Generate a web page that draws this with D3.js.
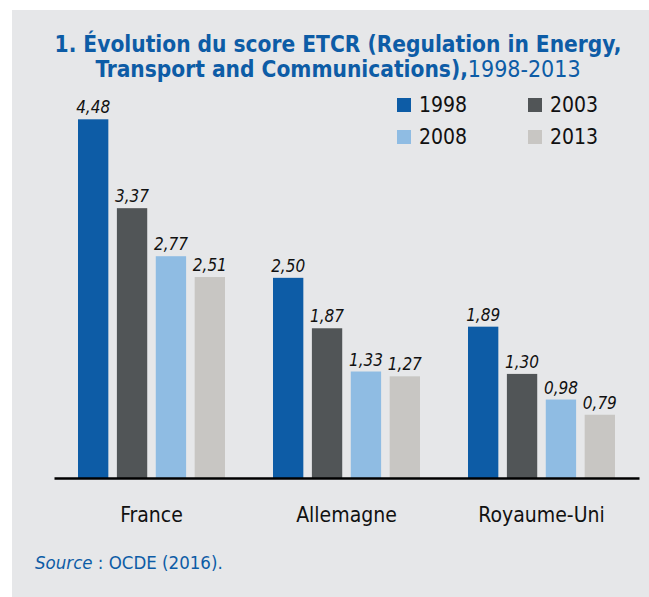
<!DOCTYPE html>
<html><head><meta charset="utf-8">
<script src="https://cdn.jsdelivr.net/npm/d3@7"></script>
<style>
body{margin:0;background:#fff;}
svg text{font-family:"Liberation Sans Narrow","DejaVu Sans Condensed","Roboto",sans-serif;}
</style></head>
<body>
<svg id="c" width="649" height="597"></svg>
<script>
const categories = ["France", "Allemagne", "Royaume-Uni"];
const years = ["1998", "2003", "2008", "2013"];
const v1998 = [4.48, 2.50, 1.89];
const v2003 = [3.37, 1.87, 1.30];
const v2008 = [2.77, 1.33, 0.98];
const v2013 = [2.51, 1.27, 0.79];
const colors = ["#0d5ca6", "#515557", "#8fbce3", "#c8c6c3"];

const series = [v1998, v2003, v2008, v2013];
const fmt = v => v.toFixed(2).replace(".", ",");

const svg = d3.select("#c");
svg.append("rect").attr("x", 12).attr("y", 10).attr("width", 637).attr("height", 587).attr("fill", "#e6e7e9");

// title
const t = svg.append("text").attr("text-anchor", "middle").attr("fill", "#0d5ca6").style("font-size", "22.5px");
t.append("tspan").attr("x", 338).attr("y", 52).attr("font-weight", "bold").text("1. Évolution du score ETCR (Regulation in Energy,");
const l2 = t.append("tspan").attr("x", 338).attr("y", 77);
l2.append("tspan").attr("font-weight", "bold").text("Transport and Communications),");
l2.append("tspan").attr("font-weight", "normal").style("font-size", "23px").text("1998-2013");

const baseline = 478;
const y = d3.scaleLinear().domain([0, 4.48]).range([baseline, 119.3]);
const x0 = d3.scaleBand().domain(categories).range([54, 639]);
const groupW = 147;
const x1 = d3.scaleBand().domain(years).range([0, groupW]).paddingInner(0.22);

const g = svg.append("g");
categories.forEach((c, ci) => {
  const gx = x0(c) + x0.bandwidth() / 2 - groupW / 2;
  years.forEach((yr, si) => {
    const v = series[si][ci];
    g.append("rect")
      .attr("x", gx + x1(yr)).attr("y", y(v))
      .attr("width", x1.bandwidth()).attr("height", baseline - y(v))
      .attr("fill", colors[si]);
    g.append("text")
      .attr("x", gx + x1(yr) + x1.bandwidth() / 2).attr("y", y(v) - 6)
      .attr("text-anchor", "middle").attr("font-style", "italic")
      .style("font-size", "17px").attr("fill", "#111").text(fmt(v));
  });
});

// axis
const ax = svg.append("g").attr("transform", `translate(0,${baseline})`)
  .call(d3.axisBottom(x0).tickSize(0).tickPadding(0));
ax.select(".domain").attr("stroke", "#000").attr("stroke-width", 2.5);
ax.selectAll(".tick text").attr("dy", null).attr("y", 44).style("font-size", "21px").attr("fill", "#111");

// legend
const legPos = [[397, 98], [528, 98], [397, 130], [528, 130]];
years.forEach((yr, i) => {
  const [lx, ly] = legPos[i];
  svg.append("rect").attr("x", lx).attr("y", ly).attr("width", 14).attr("height", 14).attr("fill", colors[i]);
  svg.append("text").attr("x", lx + 22).attr("y", ly + 14).style("font-size", "21px").attr("fill", "#111").text(yr);
});

// source
const s = svg.append("text").attr("x", 35).attr("y", 569).attr("fill", "#0d5ca6").style("font-size", "18.5px");
s.append("tspan").attr("font-style", "italic").text("Source");
s.append("tspan").text(" : OCDE (2016).");
</script>
</body></html>
